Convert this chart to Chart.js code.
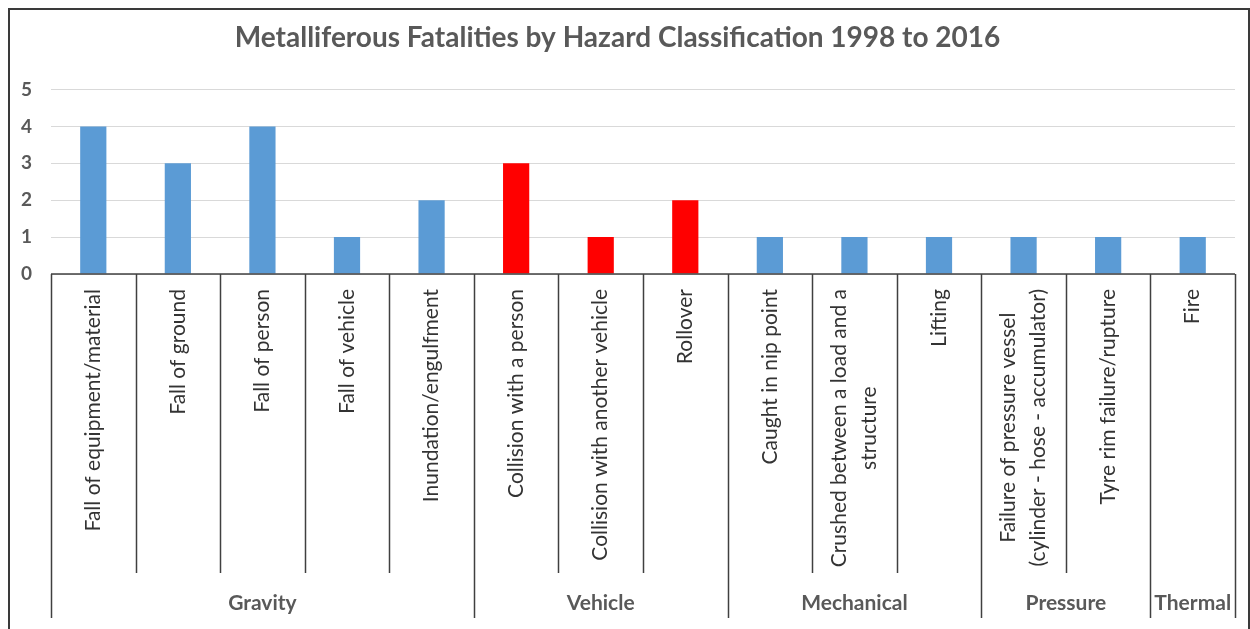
<!DOCTYPE html>
<html>
<head>
<meta charset="utf-8">
<script src="https://cdn.jsdelivr.net/npm/chart.js@4.4.1/dist/chart.umd.min.js"></script>
<style>
  html, body { margin: 0; padding: 0; background: #fff; }
  #wrap { width: 1250px; height: 629px; }
</style>
</head>
<body>
<div id="wrap"><canvas id="hazardChart"></canvas></div>
<script>
const titleText = 'Metalliferous Fatalities by Hazard Classification 1998 to 2016';

// category labels (multi-line ones as arrays)
const categories = [
    'Fall of equipment/material',
    'Fall of ground',
    'Fall of person',
    'Fall of vehicle',
    'Inundation/engulfment',
    'Collision with a person',
    'Collision with another vehicle',
    'Rollover',
    'Caught in nip point',
    ['Crushed between a load and a', 'structure'],
    'Lifting',
    ['Failure of pressure vessel', '(cylinder - hose - accumulator)'],
    'Tyre rim failure/rupture',
    'Fire'
];
const fatalities = [4, 3, 4, 1, 2, 3, 1, 2, 1, 1, 1, 1, 1, 1];

// hazard groups and how many categories each one spans
const groupNames = ['Gravity', 'Vehicle', 'Mechanical', 'Pressure', 'Thermal'];
const groupSizes = [5, 3, 3, 2, 1];

const yTicks = [0, 1, 2, 3, 4, 5];

const BLUE = '#5b9bd5';
const RED = '#ff0000';
const LINE = '#404040';

// which group each category belongs to
const groupOf = [];
groupNames.forEach((g, gi) => {
    for (let k = 0; k < groupSizes[gi]; k++) groupOf.push(g);
});

// draws the two-level category axis and the outer frame
const groupedAxis = {
    id: 'groupedAxis',
    afterDraw(chart) {
        const ctx = chart.ctx;
        const x = chart.scales.x;
        const area = chart.chartArea;
        const n = categories.length;
        const step = (area.right - area.left) / n;
        const base = area.bottom;
        const catBottom = 573;
        const groupBottom = 618;

        ctx.save();
        ctx.strokeStyle = LINE;
        ctx.lineWidth = 1.5;

        // axis line
        ctx.beginPath();
        ctx.moveTo(area.left, base);
        ctx.lineTo(area.right, base);
        ctx.stroke();

        // boundaries between categories
        const groupEdges = [0];
        groupSizes.forEach(s => groupEdges.push(groupEdges[groupEdges.length - 1] + s));
        for (let i = 0; i <= n; i++) {
            const px = Math.round(x.getPixelForValue(Math.min(i, n - 1)) + (i === n ? step / 2 : -step / 2)) + 0.5;
            const isGroup = groupEdges.includes(i);
            ctx.beginPath();
            ctx.moveTo(px, base);
            ctx.lineTo(px, isGroup ? groupBottom : catBottom);
            ctx.stroke();
        }

        // rotated category labels
        ctx.fillStyle = '#333333';
        ctx.font = '21px Lato';
        const lh = 30;
        categories.forEach((lab, i) => {
            const lines = Array.isArray(lab) ? lab : [lab];
            const cx = x.getPixelForValue(i);
            const w = Math.max(...lines.map(l => ctx.measureText(l).width));
            ctx.save();
            ctx.translate(cx, base + 15);
            ctx.rotate(-Math.PI / 2);
            ctx.textAlign = 'center';
            ctx.textBaseline = 'middle';
            lines.forEach((l, k) => {
                const off = (k - (lines.length - 1) / 2) * lh;
                ctx.fillText(l, -w / 2, off);
            });
            ctx.restore();
        });

        // group labels
        ctx.fillStyle = '#595959';
        ctx.font = 'bold 21px Lato';
        ctx.textAlign = 'center';
        ctx.textBaseline = 'middle';
        groupNames.forEach((g, gi) => {
            const first = groupEdges[gi];
            const last = groupEdges[gi + 1] - 1;
            const mid = (x.getPixelForValue(first) + x.getPixelForValue(last)) / 2;
            ctx.fillText(g, mid, 603);
        });

        // outer frame
        ctx.lineWidth = 2;
        ctx.strokeStyle = '#3a3a3a';
        ctx.strokeRect(9, 9, 1240, 640);
        ctx.restore();
    }
};

new Chart(document.getElementById('hazardChart'), {
    type: 'bar',
    data: {
        labels: categories,
        datasets: [{
            label: 'Fatalities',
            data: fatalities,
            backgroundColor: groupOf.map(g => g === 'Vehicle' ? RED : BLUE),
            barPercentage: 0.31,
            categoryPercentage: 1
        }]
    },
    options: {
        responsive: true,
        maintainAspectRatio: false,
        animation: false,
        layout: {
            padding: { left: 0, right: 15, top: 0, bottom: 355 }
        },
        plugins: {
            legend: { display: false },
            tooltip: { enabled: false },
            title: {
                display: true,
                text: titleText,
                color: '#595959',
                font: { family: 'Lato', size: 28, weight: 'bold' },
                padding: { top: 21, bottom: 35 }
            }
        },
        scales: {
            x: {
                display: false
            },
            y: {
                min: 0,
                max: 5,
                afterBuildTicks: s => { s.ticks = yTicks.map(v => ({ value: v })); },
                afterFit: s => { s.width = 51; },
                border: { display: false },
                grid: { color: '#d9d9d9', drawTicks: false },
                ticks: {
                    color: '#595959',
                    padding: 19,
                    font: { family: 'Lato', size: 19, weight: 'bold' }
                }
            }
        }
    },
    plugins: [groupedAxis]
});
</script>
</body>
</html>
